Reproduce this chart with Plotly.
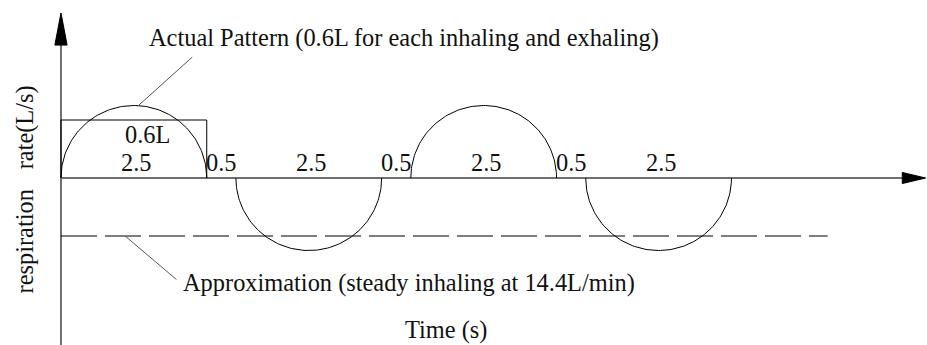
import numpy as np
import plotly.graph_objects as go

# Breathing cycle: phase durations (s) and direction (+1 inhale, -1 exhale, 0 pause)
phase_durations = [2.5, 0.5, 2.5, 0.5, 2.5, 0.5, 2.5]
phase_direction = [1, 0, -1, 0, 1, 0, -1]
duration_labels = ["2.5", "0.5", "2.5", "0.5", "2.5", "0.5", "2.5"]

peak_rate = 0.30        # L/s, peak of each breath
steady_rate = 0.24      # L/s (14.4 L/min)
approx_end = 13.15      # s, end of the steady-rate line

FONT = "Liberation Serif"
AXIS_COLOR = "#6e6e6e"

# axis extents (data units)
x_min, x_max = -1.046, 14.854
y_min, y_max = -0.691, 0.7366

fig = go.Figure()

# half-elliptic breaths
xs, ys = [], []
t0 = 0.0
starts = []
for d, s in zip(phase_durations, phase_direction):
    starts.append(t0)
    if s != 0:
        th = np.linspace(0, np.pi, 121)
        xs += list(t0 + d / 2 - d / 2 * np.cos(th)) + [None]
        ys += list(s * peak_rate * np.sin(th)) + [None]
    t0 += d

fig.add_trace(go.Scatter(x=xs, y=ys, mode="lines",
                         line=dict(color="black", width=1), hoverinfo="skip"))

# equivalent rectangle of the first inhale (same 0.6 L)
d0 = phase_durations[0]
fig.add_trace(go.Scatter(x=[0, 0, d0, d0], y=[0, steady_rate, steady_rate, 0],
                         mode="lines", line=dict(color="black", width=1),
                         hoverinfo="skip"))

# steady approximation line
fig.add_trace(go.Scatter(x=[0, approx_end], y=[-steady_rate, -steady_rate],
                         mode="lines", line=dict(color="black", width=1, dash="36px,8px"),
                         hoverinfo="skip"))

shapes = []
# axes with arrowheads
y_arrow_base, y_arrow_tip, y_arrow_half = 0.55, 0.683, 0.105
x_arrow_base, x_arrow_tip, x_arrow_half = 14.43, 14.83, 0.023
shapes.append(dict(type="line", x0=0, y0=y_min, x1=0, y1=y_arrow_base,
                   line=dict(color=AXIS_COLOR, width=2), layer="below"))
shapes.append(dict(type="line", x0=0, y0=0, x1=x_arrow_base, y1=0,
                   line=dict(color=AXIS_COLOR, width=2), layer="below"))
shapes.append(dict(type="path",
                   path=f"M {-y_arrow_half} {y_arrow_base} L 0 {y_arrow_tip} L {y_arrow_half} {y_arrow_base} Z",
                   fillcolor="black", line=dict(color="black", width=1)))
shapes.append(dict(type="path",
                   path=f"M {x_arrow_base} {x_arrow_half} L {x_arrow_tip} 0 L {x_arrow_base} {-x_arrow_half} Z",
                   fillcolor="black", line=dict(color="black", width=1)))
# leader lines
shapes.append(dict(type="line", x0=1.32, y0=0.298, x1=2.25, y1=0.50,
                   line=dict(color="#555555", width=1)))
shapes.append(dict(type="line", x0=1.10, y0=-0.24, x1=1.98, y1=-0.42,
                   line=dict(color="#555555", width=1)))

ann = []
def txt(x, y, s, xanchor="center", angle=0):
    ann.append(dict(x=x, y=y, text=s, showarrow=False, xanchor=xanchor, yanchor="middle",
                    textangle=angle, font=dict(family=FONT, size=24.4, color="#111111")))

# duration labels
for st, d, lab, s in zip(starts, phase_durations, duration_labels, phase_direction):
    if s != 0:
        txt(st + d / 2 + 0.05, 0.066, lab)
    else:
        txt(st + d / 2, 0.066, lab)
txt(1.06, 0.182, "0.6L", xanchor="left")

txt(1.47, 0.578, "Actual Pattern (0.6L for each inhaling and exhaling)", xanchor="left")
txt(2.05, -0.434, "Approximation (steady inhaling at 14.4L/min)", xanchor="left")
txt(6.6, -0.63, "Time (s)")
txt(-0.62, 0.209, "rate(L/s)", angle=-90)
txt(-0.62, -0.263, "respiration", angle=-90)

fig.update_layout(
    width=927, height=345, margin=dict(l=0, r=0, t=0, b=0),
    paper_bgcolor="white", plot_bgcolor="white", showlegend=False,
    xaxis=dict(range=[x_min, x_max], visible=False, fixedrange=True),
    yaxis=dict(range=[y_min, y_max], visible=False, fixedrange=True),
    shapes=shapes, annotations=ann,
)

fig.write_html("out.html")
